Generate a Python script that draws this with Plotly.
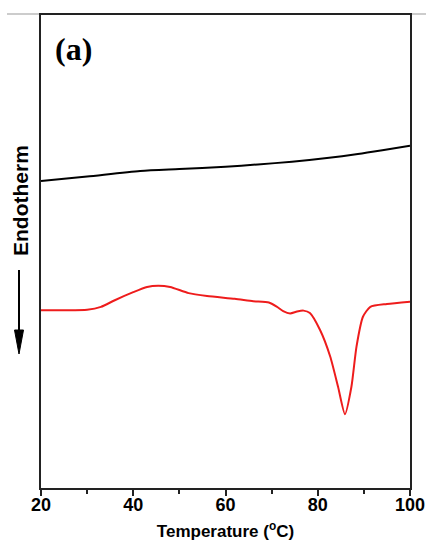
import plotly.graph_objects as go

# DSC traces (heat flow, arbitrary units) versus temperature
temp_black = [20, 30, 41.5, 50, 60, 67, 74.4, 82, 88.7, 94, 100]
flow_black = [64.9, 65.86, 67.02, 67.44, 67.93, 68.4, 68.99, 69.77, 70.6, 71.4, 72.37]

temp_red = [20, 25, 30, 33, 36, 40, 43, 45.4, 48, 52, 56, 62, 66, 69.4, 71.1, 72.5,
            74.0, 75.5, 76.9, 78.3, 80.5, 82.7, 84.4, 85.9, 87.3, 88.4, 89.8, 91.4, 95, 100]
flow_red = [37.6, 37.6, 37.7, 38.3, 39.7, 41.4, 42.5, 42.77, 42.5, 41.2, 40.6, 40.0, 39.5, 39.2,
            38.33, 37.4, 36.9, 37.3, 37.5, 37.0, 33.4, 27.8, 21.4, 15.6, 21.4, 29.9, 36.2, 38.3,
            38.9, 39.4]

x_ticks = [20, 40, 60, 80, 100]

fig = go.Figure()
fig.add_trace(go.Scatter(x=temp_black, y=flow_black, mode="lines",
                         line=dict(color="black", width=2, shape="spline", smoothing=0.7),
                         showlegend=False))
fig.add_trace(go.Scatter(x=temp_red, y=flow_red, mode="lines",
                         line=dict(color="#ee1c1c", width=2, shape="spline", smoothing=0.6),
                         showlegend=False))

axis_font = dict(family="Arial, Liberation Sans, sans-serif", size=18, color="black")

fig.update_layout(
    width=426, height=543,
    margin=dict(l=41, r=16, t=15, b=55),
    paper_bgcolor="white", plot_bgcolor="white",
    xaxis=dict(range=[20, 100], tickvals=x_ticks, ticktext=[f"<b>{v}</b>" for v in x_ticks],
               ticks="outside", ticklen=6, tickwidth=2, tickcolor="#222",
               ticklabelstandoff=-7,
               minor=dict(tickvals=[30, 50, 70, 90], ticks="outside", ticklen=4,
                          tickwidth=2, tickcolor="#222"),
               showline=True, linecolor="#222", linewidth=2, mirror=True,
               showgrid=False, zeroline=False, tickfont=axis_font, automargin=False,
               title=dict(text="<b>Temperature (<sup>o</sup>C)</b>", standoff=12,
                          font=dict(family="Arial, Liberation Sans, sans-serif", size=17, color="black"))),
    yaxis=dict(range=[0, 100], showticklabels=False, ticks="", automargin=False,
               showline=True, linecolor="#222", linewidth=2, mirror=True,
               showgrid=False, zeroline=False),
)

# panel label
fig.add_annotation(text="<b>(a)</b>", xref="paper", yref="paper", x=0.0, y=1.0,
                   xanchor="left", yanchor="top", xshift=12, yshift=-14, showarrow=False,
                   font=dict(family="Liberation Serif, Times New Roman, serif", size=32, color="black"))

# y axis caption with downward arrow
fig.add_annotation(text="<b>Endotherm</b>", xref="paper", yref="paper",
                   x=-21 / 369, y=(488 - 201) / 473, xanchor="center", yanchor="middle",
                   textangle=-90, showarrow=False,
                   font=dict(family="Arial, Liberation Sans, sans-serif", size=21, color="black"))
fig.add_shape(type="line", xref="paper", yref="paper",
              x0=-22 / 369, x1=-22 / 369, y0=(488 - 270) / 473, y1=(488 - 340) / 473,
              line=dict(color="black", width=2))
fig.add_shape(type="path", xref="paper", yref="paper",
              path=f"M {-26.5 / 369} {(488 - 330) / 473} L {-17.5 / 369} {(488 - 330) / 473} "
                   f"L {-22 / 369} {(488 - 354) / 473} Z",
              fillcolor="black", line=dict(color="black", width=1))

# faint rule along the top edge
fig.add_shape(type="line", xref="paper", yref="paper",
              x0=-34 / 369, x1=1 + 16 / 369, y0=1 + 1 / 473, y1=1 + 1 / 473,
              line=dict(color="#bbbbbb", width=1.5), layer="below")

fig.write_html("out.html")
